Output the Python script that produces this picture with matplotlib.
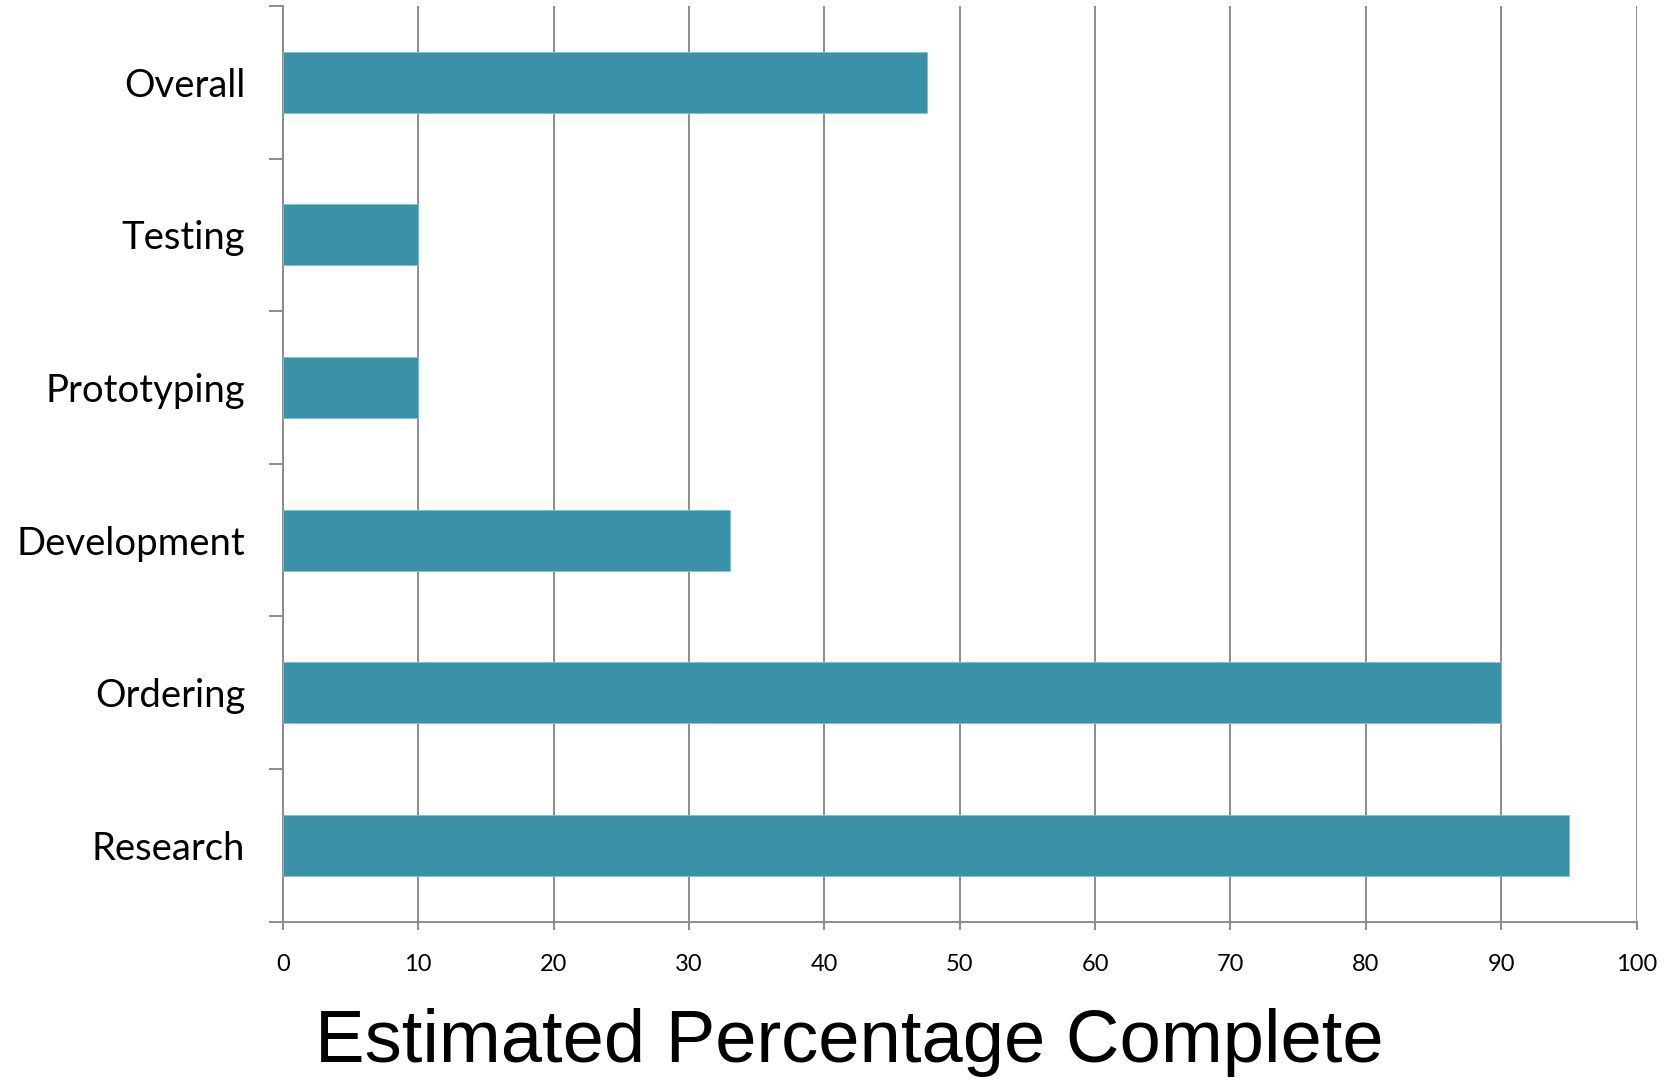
import numpy as np
import matplotlib.pyplot as plt

categories = ["Research", "Ordering", "Development", "Prototyping", "Testing", "Overall"]
percent_complete = [95, 90, 33, 10, 10, 47.6]
x_ticks = [0, 10, 20, 30, 40, 50, 60, 70, 80, 90, 100]


def plot_progress():
    fig = plt.figure(figsize=(16.66, 10.81), dpi=100)
    ax = fig.add_axes([0.1697, 0.1474, 0.8127, 0.847])

    grid_color = "#8c8c8c"
    pos = np.arange(len(categories))
    ax.barh(pos, percent_complete, height=0.4, color="#3a91a8",
            edgecolor="#7ec3d3", linewidth=0.6, zorder=3)

    ax.set_xlim(0, 100)
    ax.set_ylim(-0.5, len(categories) - 0.5)
    ax.set_xticks(x_ticks)
    ax.set_xticklabels([str(t) for t in x_ticks], fontfamily="Lato", fontsize=17)
    ax.set_yticks(pos)
    ax.set_yticklabels(categories, fontfamily="Lato", fontsize=27.5)
    ax.set_yticks(np.arange(len(categories) + 1) - 0.5, minor=True)

    ax.tick_params(axis="y", which="major", length=0, pad=27)
    ax.tick_params(axis="y", which="minor", length=10, width=1.4, color=grid_color, direction="out")
    ax.tick_params(axis="x", length=6, width=1.4, color=grid_color, direction="out", pad=17)

    ax.grid(axis="x", color=grid_color, linewidth=1.4, zorder=0)
    ax.set_axisbelow(True)
    for side in ["top", "right"]:
        ax.spines[side].set_visible(False)
    for side in ["left", "bottom"]:
        ax.spines[side].set_color(grid_color)
        ax.spines[side].set_linewidth(1.4)

    fig.text(0.51, 0.018, "Estimated Percentage Complete", fontfamily="Liberation Sans",
             fontsize=53.5, ha="center", va="baseline")

    fig.savefig("out.png", dpi=100)
    plt.close(fig)


if __name__ == "__main__":
    plot_progress()
